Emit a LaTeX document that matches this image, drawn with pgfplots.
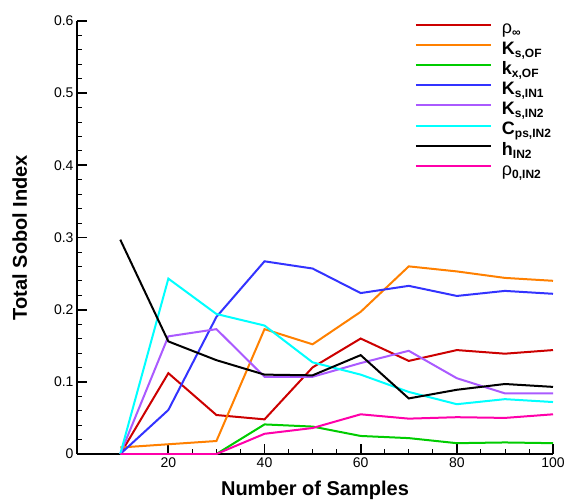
\documentclass[border=0pt]{standalone}
\usepackage{pgfplots}
\pgfplotsset{compat=1.18}
\usepackage{fontspec}
\setmainfont{Liberation Sans}
\definecolor{cred}{RGB}{204,0,0}
\definecolor{corange}{RGB}{255,128,0}
\definecolor{cgreen}{RGB}{0,204,0}
\definecolor{cblue}{RGB}{51,51,255}
\definecolor{cpurple}{RGB}{170,90,255}
\definecolor{ccyan}{RGB}{0,255,255}
\definecolor{cmag}{RGB}{255,0,170}
\newcommand{\lsub}[1]{\raisebox{-3pt}{\fontsize{12}{12}\selectfont\bfseries #1}}
\begin{document}
\begin{tikzpicture}
\path[use as bounding box] (-77pt,-46pt) rectangle (492pt,454pt);
\begin{axis}[
  at={(0pt,0pt)}, anchor=south west,
  scale only axis, width=476pt, height=433pt,
  xmin=1, xmax=100, ymin=0, ymax=0.6,
  axis x line*=bottom, axis y line*=left,
  axis line style={line width=1.8pt,-},
  xtick={20,40,60,80,100}, minor x tick num=3,
  ytick={0,0.1,0.2,0.3,0.4,0.5,0.6}, minor y tick num=4,
  yticklabels={0,0.1,0.2,0.3,0.4,0.5,0.6},
  tick align=inside,
  major tick length=10pt, minor tick length=5pt,
  every major tick/.append style={line width=1.8pt, black},
  every minor tick/.append style={line width=0.8pt, black},
  tick label style={font=\fontsize{14}{14}\selectfont},
  /pgf/number format/assume math mode=true,
  xlabel={\fontsize{20}{20}\selectfont\bfseries Number of Samples},
  ylabel={\fontsize{20}{20}\selectfont\bfseries Total Sobol Index},
  xlabel style={yshift=-7pt},
  ylabel style={yshift=20pt},
  legend style={draw=none, fill=none, at={(rel axis cs:0.71,1.0)}, anchor=north west,
     inner sep=0pt, outer sep=0pt, row sep=0pt, column sep=10pt,
     nodes={inner sep=0pt, text height=13pt, text depth=7.2pt, font=\fontsize{18}{18}\selectfont\bfseries}},
  legend cell align=left,
  legend image code/.code={\draw[#1, line width=2pt] (0pt,6.4pt) -- (75pt,6.4pt);},
]
\addplot[color=cred, line width=2pt] coordinates {(10,0) (20,0.112) (30,0.054) (40,0.048) (50,0.120) (60,0.160) (70,0.129) (80,0.144) (90,0.139) (100,0.144)};
\addlegendentry{\mdseries ρ\lsub{∞}}
\addplot[color=corange, line width=2pt] coordinates {(10,0.009) (20,0.0135) (30,0.018) (40,0.173) (50,0.152) (60,0.197) (70,0.260) (80,0.253) (90,0.244) (100,0.240)};
\addlegendentry{K\lsub{s,OF}}
\addplot[color=cgreen, line width=2pt] coordinates {(10,0) (20,0) (30,0) (40,0.041) (50,0.038) (60,0.025) (70,0.022) (80,0.015) (90,0.016) (100,0.015)};
\addlegendentry{k\lsub{x,OF}}
\addplot[color=cblue, line width=2pt] coordinates {(10,0) (20,0.061) (30,0.190) (40,0.267) (50,0.257) (60,0.223) (70,0.233) (80,0.219) (90,0.226) (100,0.222)};
\addlegendentry{K\lsub{s,IN1}}
\addplot[color=cpurple, line width=2pt] coordinates {(10,0) (20,0.163) (30,0.173) (40,0.107) (50,0.107) (60,0.126) (70,0.143) (80,0.105) (90,0.084) (100,0.084)};
\addlegendentry{K\lsub{s,IN2}}
\addplot[color=ccyan, line width=2pt] coordinates {(10,0) (20,0.243) (30,0.194) (40,0.178) (50,0.127) (60,0.110) (70,0.086) (80,0.069) (90,0.076) (100,0.072)};
\addlegendentry{C\lsub{ps,IN2}}
\addplot[color=black, line width=2pt] coordinates {(10,0.297) (20,0.156) (30,0.130) (40,0.110) (50,0.109) (60,0.137) (70,0.077) (80,0.089) (90,0.097) (100,0.093)};
\addlegendentry{h\lsub{IN2}}
\addplot[color=cmag, line width=2pt] coordinates {(10,0) (20,0) (30,0) (40,0.028) (50,0.036) (60,0.055) (70,0.049) (80,0.051) (90,0.050) (100,0.055)};
\addlegendentry{\mdseries ρ\lsub{0,IN2}}
\end{axis}
\end{tikzpicture}
\end{document}
